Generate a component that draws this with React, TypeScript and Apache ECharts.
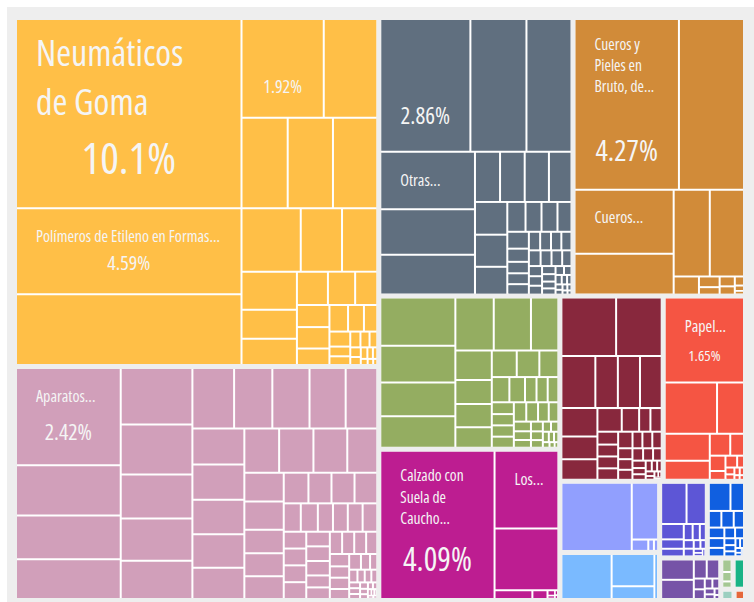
import React, { useEffect, useRef } from "react";
import * as echarts from "echarts";

// ---- Data (shares of total exports, %) ----
const sectorNames = [
  "Plásticos y Cauchos",
  "Máquinas",
  "Productos Químicos",
  "Pieles de Animales",
  "Textiles",
  "Calzado y Sombreros",
  "Metales",
  "Papel",
  "Instrumentos",
  "Transporte",
  "Productos Minerales",
  "Metales Preciosos",
  "Varios",
  "Productos Vegetales",
  "Productos Alimenticios",
  "Madera",
  "Productos Animales",
];

const sectorColors = [
  "#ffbf47", "#d19fba", "#606f7f", "#d18b39", "#94ad61", "#bd1d91", "#88283d", "#f55543",
  "#919ffe", "#7abaff", "#5d56d6", "#105fe0", "#7653a7", "#a5c793", "#18b386", "#e5673a", "#9ccfc0",
];

const plasticsValues = [10.1, 4.59, 3.78, 1.92, 1.25, 0.99, 0.97, 0.95, 0.89, 0.62, 0.53, 0.5, 0.38, 0.345, 0.245, 0.215, 0.175, 0.17, 0.165, 0.127, 0.117, 0.1, 0.084, 0.074, 0.048, 0.043, 0.038, 0.034, 0.029, 0.024, 0.02, 0.018, 0.015, 0.012, 0.01, 0.008, 0.006];
const machinesValues = [2.42, 1.25, 1.09, 0.99, 0.96, 0.855, 0.75, 0.72, 0.65, 0.6, 0.55, 0.535, 0.52, 0.455, 0.445, 0.435, 0.425, 0.415, 0.385, 0.365, 0.36, 0.355, 0.315, 0.27, 0.265, 0.22, 0.216, 0.212, 0.18, 0.168, 0.168, 0.166, 0.115, 0.115, 0.102, 0.1, 0.1, 0.099, 0.09, 0.09, 0.09, 0.09, 0.082, 0.082, 0.081, 0.067, 0.065, 0.065, 0.064, 0.063, 0.059, 0.057, 0.052, 0.052, 0.046, 0.044, 0.034, 0.027, 0.025, 0.022, 0.02, 0.018, 0.015, 0.015, 0.013, 0.012, 0.01, 0.009, 0.008, 0.007, 0.006, 0.005, 0.004, 0.004, 0.003];
const chemicalsValues = [2.86, 1.78, 1.43, 1.3, 1.03, 0.9, 0.3, 0.295, 0.29, 0.27, 0.253, 0.248, 0.215, 0.13, 0.114, 0.114, 0.1, 0.087, 0.068, 0.059, 0.056, 0.054, 0.05, 0.048, 0.046, 0.045, 0.044, 0.041, 0.04, 0.035, 0.032, 0.03, 0.028, 0.026, 0.024, 0.022, 0.02, 0.018, 0.016, 0.014, 0.012, 0.01, 0.009, 0.008, 0.007, 0.006, 0.005, 0.004];
const hidesValues = [4.27, 2.66, 1.52, 0.97, 0.75, 0.71, 0.11, 0.053, 0.037, 0.036, 0.03, 0.02, 0.012, 0.008];
const textilesValues = [0.87, 0.67, 0.61, 0.57, 0.49, 0.475, 0.35, 0.26, 0.21, 0.205, 0.18, 0.16, 0.145, 0.122, 0.107, 0.095, 0.07, 0.068, 0.065, 0.063, 0.059, 0.06, 0.06, 0.058, 0.055, 0.05, 0.045, 0.04, 0.036, 0.032, 0.028, 0.025, 0.022, 0.02, 0.018, 0.015, 0.013, 0.011, 0.009, 0.007, 0.005];
const footwearValues = [4.09, 1.2, 0.95, 0.08, 0.032, 0.01, 0.006, 0.004, 0.003];
const metalsValues = [0.78, 0.65, 0.43, 0.285, 0.28, 0.275, 0.25, 0.2, 0.18, 0.14, 0.1, 0.065, 0.065, 0.065, 0.06, 0.06, 0.058, 0.058, 0.04, 0.04, 0.038, 0.038, 0.037, 0.035, 0.032, 0.03, 0.026, 0.024, 0.02, 0.018, 0.016, 0.014, 0.012, 0.01, 0.008, 0.006, 0.005, 0.004];
const paperValues = [1.65, 0.66, 0.34, 0.3, 0.21, 0.11, 0.074, 0.059, 0.034, 0.034, 0.02, 0.015, 0.012, 0.01, 0.008, 0.006, 0.005];
const instrumentsValues = [1.2, 0.375, 0.047, 0.016, 0.012];
const transportValues = [0.58, 0.354, 0.14, 0.043];
const mineralsValues = [0.27, 0.205, 0.09, 0.055, 0.045, 0.037, 0.03, 0.025, 0.022, 0.02, 0.015, 0.012, 0.01, 0.008, 0.006];
const preciousValues = [0.16, 0.1, 0.055, 0.054, 0.045, 0.043, 0.04, 0.035, 0.03, 0.025, 0.02, 0.018, 0.015, 0.012, 0.01, 0.008, 0.006, 0.005];
const miscValues = [0.175, 0.165, 0.065, 0.063, 0.031, 0.028, 0.02, 0.018, 0.015, 0.012, 0.008, 0.005];
const vegetableValues = [0.04, 0.03, 0.02];
const foodValues = [0.09];
const woodValues = [0.03];
const animalValues = [0.035];

const sectorValues = [
  plasticsValues, machinesValues, chemicalsValues, hidesValues, textilesValues, footwearValues,
  metalsValues, paperValues, instrumentsValues, transportValues, mineralsValues, preciousValues,
  miscValues, vegetableValues, foodValues, woodValues, animalValues,
];

// Labelled products: sector index, product index, visible name, visible share
const labelledProducts = [
  { sector: 0, leaf: 0, name: "Neumáticos\nde Goma", share: "10.1%" },
  { sector: 0, leaf: 1, name: "Polímeros de Etileno en Formas...", share: "4.59%" },
  { sector: 0, leaf: 3, name: "", share: "1.92%" },
  { sector: 2, leaf: 0, name: "", share: "2.86%" },
  { sector: 2, leaf: 3, name: "Otras...", share: "" },
  { sector: 3, leaf: 0, name: "Cueros y\nPieles en\nBruto, de...", share: "4.27%" },
  { sector: 3, leaf: 2, name: "Cueros...", share: "" },
  { sector: 1, leaf: 0, name: "Aparatos...", share: "2.42%" },
  { sector: 7, leaf: 0, name: "Papel...", share: "1.65%" },
  { sector: 5, leaf: 0, name: "Calzado con\nSuela de\nCaucho...", share: "4.09%" },
  { sector: 5, leaf: 1, name: "Los...", share: "" },
];

// ---- Typography for the labels (same order as labelledProducts) ----
const labelTypography = [
  { padTop: 8, nameSize: 36, nameLH: 49, shareSize: 44, shareLH: 61 },
  { padTop: 15.6, nameSize: 16, nameLH: 21.8, shareSize: 20, shareLH: 32 },
  { padTop: 18.5, nameSize: 16, nameLH: 18, shareSize: 18, shareLH: 95 },
  { padTop: 18.5, nameSize: 16, nameLH: 18, shareSize: 23, shareLH: 152.6 },
  { padTop: 16.1, nameSize: 16, nameLH: 21.8, shareSize: 16, shareLH: 21.8 },
  { padTop: 13, nameSize: 15.5, nameLH: 21.2, shareSize: 29, shareLH: 105.5 },
  { padTop: 15.6, nameSize: 16, nameLH: 21.8, shareSize: 16, shareLH: 21.8 },
  { padTop: 16.1, nameSize: 16, nameLH: 21.8, shareSize: 22, shareLH: 48 },
  { padTop: 16.1, nameSize: 16, nameLH: 21.8, shareSize: 15, shareLH: 37.2 },
  { padTop: 13, nameSize: 15.5, nameLH: 21.2, shareSize: 32, shareLH: 61.3 },
  { padTop: 16.1, nameSize: 16, nameLH: 21.8, shareSize: 16, shareLH: 21.8 },
];

const FONT = "'Open Sans', 'DejaVu Sans Condensed', sans-serif";
const TEXT_COLOR = "#f5f5f5";

function buildLabel(idx: number) {
  const p = labelledProducts[idx];
  const t = labelTypography[idx];
  const parts: string[] = [];
  if (p.name) parts.push(`{n|${p.name}}`);
  if (p.share) parts.push(`{p|${p.share}}`);
  const text = parts.join("\n");
  return {
    show: true,
    position: "insideTopLeft",
    distance: 0,
    padding: [t.padTop, 19, -300, 19],
    overflow: "none",
    formatter: () => text,
    rich: {
      n: { fontFamily: FONT, fontWeight: 500, fontSize: t.nameSize, lineHeight: t.nameLH, color: TEXT_COLOR },
      p: { fontFamily: FONT, fontWeight: 500, fontSize: t.shareSize, lineHeight: t.shareLH, color: TEXT_COLOR, align: "center" },
    },
  };
}

function buildData() {
  return sectorNames.map((sector, s) => ({
    name: sector,
    itemStyle: { color: sectorColors[s] },
    children: sectorValues[s].map((v, i) => {
      const li = labelledProducts.findIndex((p) => p.sector === s && p.leaf === i);
      const node: any = {
        name: li >= 0 && labelledProducts[li].name ? labelledProducts[li].name.replace(/\n/g, " ") : `${sector} ${i + 1}`,
        value: v,
      };
      if (li >= 0) node.label = buildLabel(li);
      return node;
    }),
  }));
}

export default function App() {
  const ref = useRef<HTMLDivElement>(null);
  useEffect(() => {
    if (!ref.current) return;
    const chart = echarts.init(ref.current, null, { renderer: "svg" });
    chart.setOption({
      animation: false,
      backgroundColor: "#eeeeee",
      series: [
        {
          type: "treemap",
          left: 10,
          top: 13,
          right: 11,
          bottom: 4,
          roam: false,
          nodeClick: false,
          silent: true,
          visibleMin: 0,
          childrenVisibleMin: 0,
          breadcrumb: { show: false },
          upperLabel: { show: false },
          label: { show: false },
          itemStyle: { borderWidth: 0 },
          levels: [
            { itemStyle: { borderWidth: 0, gapWidth: 5, borderColor: "#eeeeee" } },
            { itemStyle: { borderWidth: 0, gapWidth: 2, borderColor: "#ffffff" } },
            { itemStyle: { borderWidth: 0 } },
          ],
          data: buildData(),
        },
      ],
    });
    return () => chart.dispose();
  }, []);
  return (
    <>
      <style>{`#root text { font-stretch: 75% !important; }`}</style>
      <div
        ref={ref}
        style={{ position: "absolute", left: 7, top: 7, width: 747, height: 595, background: "#eeeeee" }}
      />
    </>
  );
}
